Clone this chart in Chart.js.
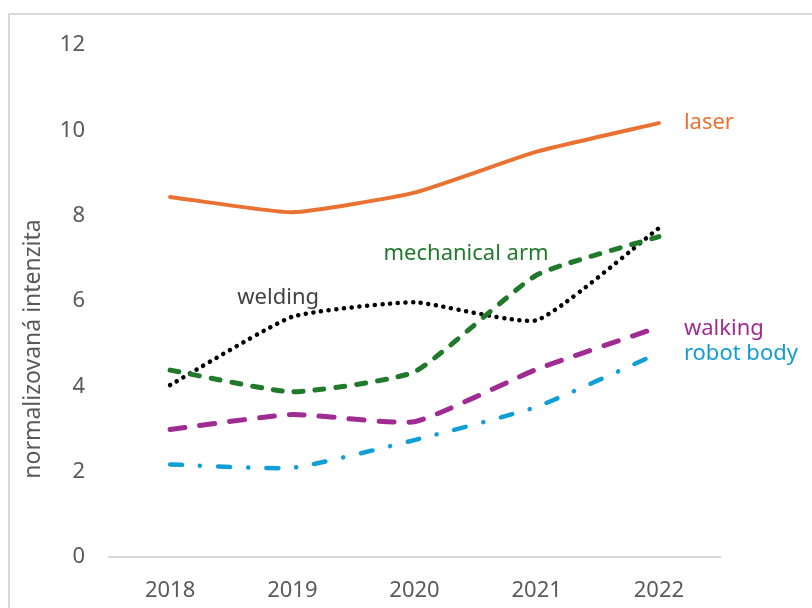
<!DOCTYPE html>
<html>
<head>
<meta charset="utf-8">
<script src="https://cdn.jsdelivr.net/npm/chart.js@4/dist/chart.umd.min.js"></script>
<style>
  html, body { margin: 0; padding: 0; background: #fff; overflow: hidden; }
  #wrap { position: relative; width: 812px; height: 608px; }
  #frame {
    position: absolute; left: 8px; top: 13px; width: 900px; height: 700px;
    border-left: 2px solid #d9d9d9; border-top: 2px solid #d9d9d9;
  }
  canvas { position: absolute; left: 0; top: 0; }
</style>
</head>
<body>
<div id="wrap">
  <div id="frame"></div>
  <canvas id="chart" width="812" height="608"></canvas>
</div>
<script>
const years = ['2018', '2019', '2020', '2021', '2022'];
const laser = [8.44, 8.08, 8.54, 9.50, 10.17];
const mechanicalArm = [4.38, 3.87, 4.34, 6.61, 7.51];
const welding = [4.03, 5.63, 5.97, 5.55, 7.71];
const walking = [2.99, 3.34, 3.17, 4.40, 5.39];
const robotBody = [2.17, 2.09, 2.74, 3.52, 4.78];
const yTicks = [0, 2, 4, 6, 8, 10, 12];
const yTitle = 'normalizovaná intenzita';

const FONT = "'Noto Sans', sans-serif";

// series name is written next to one of its points
const lineLabels = [
    { dataset: 0, index: 4, dx: 25, dy: 0, text: 'laser' },
    { dataset: 1, index: 2, dx: -31, dy: -118, text: 'mechanical arm' },
    { dataset: 2, index: 1, dx: -55, dy: -19, text: 'welding' },
    { dataset: 3, index: 4, dx: 25, dy: 2, text: 'walking' },
    { dataset: 4, index: 4, dx: 25, dy: 1, text: 'robot body' }
];

const labelPlugin = {
    id: 'lineLabels',
    afterDatasetsDraw(chart) {
        const ctx = chart.ctx;
        ctx.save();
        ctx.font = '22px ' + FONT;
        ctx.textBaseline = 'middle';
        ctx.textAlign = 'left';
        lineLabels.forEach(function(l) {
            const pt = chart.getDatasetMeta(l.dataset).data[l.index];
            const ds = chart.data.datasets[l.dataset];
            ctx.fillStyle = ds.labelColor || ds.borderColor;
            ctx.fillText(l.text, pt.x + l.dx, pt.y + l.dy);
        });

        // axis title sits a bit below the middle of the value axis
        ctx.font = '23px ' + FONT;
        ctx.fillStyle = '#595959';
        ctx.textAlign = 'center';
        ctx.translate(33, 349);
        ctx.rotate(-Math.PI / 2);
        ctx.fillText(yTitle, 0, 0);
        ctx.restore();
    }
};

function series(data, color, width, dash, extra) {
    return Object.assign({
        data: data,
        borderColor: color,
        borderWidth: width,
        borderDash: dash,
        borderCapStyle: 'round',
        borderJoinStyle: 'round',
        pointRadius: 0,
        tension: 0.15,
        fill: false
    }, extra || {});
}

new Chart(document.getElementById('chart'), {
    type: 'line',
    data: {
        labels: years,
        datasets: [
            series(laser, '#E97132', 4, []),
            series(mechanicalArm, '#217A2B', 5, [9, 12]),
            series(welding, '#000000', 4.5, [0.1, 7.6], { labelColor: '#404040' }),
            series(walking, '#A02B93', 5, [15, 15]),
            series(robotBody, '#0F9ED5', 4.5, [12, 18, 0.1, 18])
        ]
    },
    options: {
        responsive: false,
        animation: false,
        layout: { padding: { top: 45, right: 92, left: 0, bottom: 0 } },
        plugins: {
            legend: { display: false },
            tooltip: { enabled: false }
        },
        scales: {
            x: {
                offset: true,
                grid: { display: false, drawTicks: false },
                border: { display: true, color: '#d9d9d9', width: 2 },
                ticks: { color: '#595959', font: { family: FONT, size: 22 }, padding: 21 },
                afterFit: function(scale) { scale.height = 51; }
            },
            y: {
                min: 0,
                max: 12,
                grid: { display: false, drawTicks: false },
                border: { display: false },
                afterBuildTicks: function(scale) {
                    scale.ticks = yTicks.map(function(v) { return { value: v }; });
                },
                ticks: { color: '#595959', font: { family: FONT, size: 22 }, padding: 24 },
                afterFit: function(scale) { scale.width = 109; }
            }
        }
    },
    plugins: [labelPlugin]
});
</script>
</body>
</html>
